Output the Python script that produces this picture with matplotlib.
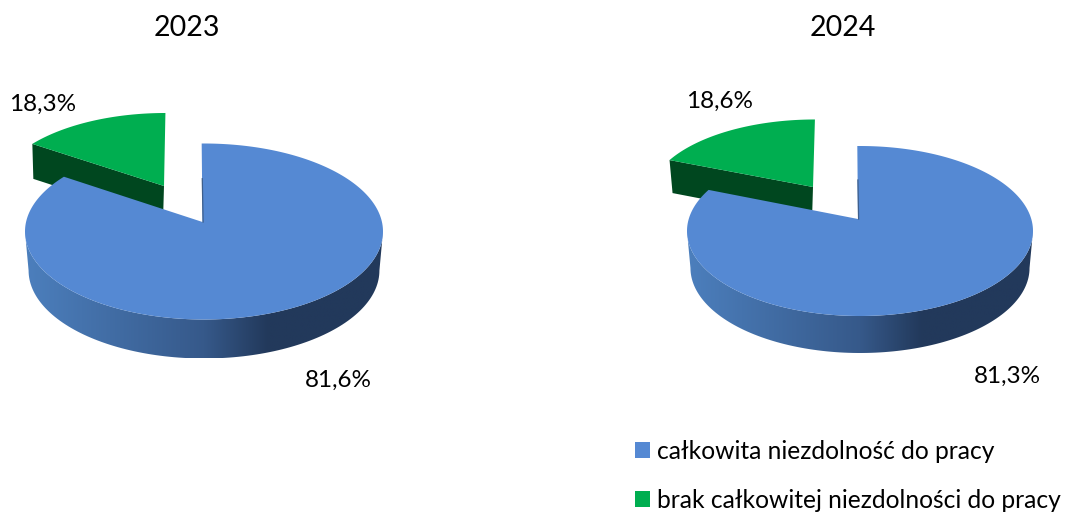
"""Two 3D-look pie charts, 2023 vs 2024, drawn in pixel coordinates."""
import matplotlib
matplotlib.use("Agg")
import matplotlib.pyplot as plt
import numpy as np
from matplotlib.colors import LinearSegmentedColormap
from matplotlib.patches import Patch, Polygon

years = ["2023", "2024"]
share_total = [81.6, 81.3]
share_none = [18.3, 18.6]
legend_labels = ["całkowita niezdolność do pracy", "brak całkowitej niezdolności do pracy"]

BLUE = "#5589D3"
GREEN = "#00AE50"
GREEN_DARK = "#00471F"
WALL = LinearSegmentedColormap.from_list(
    "wall", [(0, "#4C7FBD"), (0.5, "#36598A"), (0.68, "#22395B"), (1, "#22395B")]
)

# layout per pie: ellipse centre, radii, perspective, depth, exploded slice
PIES = [
    dict(cx=204, cy=231.5, rx=179, ry=88, persp=0.288, depth=39, apex=(202.5, 222),
         g_apex=(164, 186), g_scale=(0.95, 0.93), g_drop=(1, 35)),
    dict(cx=860, cy=231, rx=173, ry=85, persp=0.115, depth=37, apex=(858, 219),
         g_apex=(813, 187), g_scale=(0.96, 0.925), g_drop=(3, 33)),
]
TITLE_POS = [(187, 28.5), (843, 27.5)]
LABEL_TOTAL_POS = [(338, 380), (1007, 376)]
LABEL_NONE_POS = [(43, 104), (720, 101)]

plt.rcParams["font.family"] = ["Lato", "DejaVu Sans"]


def rim(p, deg):
    """Point(s) on the top rim, deg measured clockwise from 12 o'clock."""
    t = np.radians(deg)
    x, y = np.sin(t), np.cos(t)
    e = p["persp"]
    px = np.sqrt(1 - e**2) * x / (1 + e * y)
    py = (y + e) / (1 + e * y)
    return np.column_stack([p["cx"] + p["rx"] * px, p["cy"] - p["ry"] * py])


def draw_pie(ax, p, total, none):
    end = 360 * total / (total + none)
    apex = np.array(p["apex"], dtype=float)
    g_apex = np.array(p["g_apex"], dtype=float)

    # exploded slice: dark cut face first, then the top
    arc = rim(p, np.linspace(end, 360, 60))
    g_arc = g_apex + np.array(p["g_scale"]) * (arc - apex)
    drop = np.array(p["g_drop"])
    ax.add_patch(Polygon([g_arc[0], g_apex, g_apex + (-1, drop[1]), g_arc[0] + drop],
                         fc=GREEN_DARK, ec="none", zorder=2))
    ax.add_patch(Polygon(np.vstack([g_apex, g_arc]), fc=GREEN, ec="none", zorder=3))

    # side wall with a left-to-right gradient, clipped to the front half
    phi = np.linspace(0, np.pi, 120)
    top = np.column_stack([p["cx"] + p["rx"] * np.cos(phi), p["cy"] + p["ry"] * np.sin(phi)])
    bottom = np.column_stack([p["cx"] + 0.98 * p["rx"] * np.cos(phi),
                              p["cy"] + p["depth"] + p["ry"] * np.sin(phi)])
    wall = Polygon(np.vstack([top, bottom[::-1]]), fc="none", ec="none", transform=ax.transData)
    ax.add_patch(wall)
    img = ax.imshow(np.linspace(0, 1, 256)[None, :], cmap=WALL, aspect="auto", zorder=4,
                    extent=(p["cx"] - p["rx"], p["cx"] + p["rx"],
                            p["cy"] + p["ry"] + p["depth"], p["cy"] - 5))
    img.set_clip_path(wall)

    # main slice top and the thin inner edge of the notch
    b_arc = rim(p, np.linspace(-1, end, 240))
    ax.add_patch(Polygon(np.vstack([apex, b_arc]), fc=BLUE, ec="none", zorder=5))
    ax.plot([b_arc[0][0] + 0.6, apex[0] + 0.6], [p["cy"] - 0.6 * p["ry"], apex[1]],
            color="#3E5F8C", lw=0.9, zorder=5)


fig = plt.figure(figsize=(10.65, 5.13), dpi=100)
ax = fig.add_axes([0, 0, 1, 1])

for i, p in enumerate(PIES):
    draw_pie(ax, p, share_total[i], share_none[i])
    ax.text(*TITLE_POS[i], years[i], fontsize=20.5, ha="center", va="center", color="black")
    ax.text(*LABEL_TOTAL_POS[i], f"{share_total[i]:.1f}%".replace(".", ","),
            fontsize=17.5, ha="center", va="center", color="black")
    ax.text(*LABEL_NONE_POS[i], f"{share_none[i]:.1f}%".replace(".", ","),
            fontsize=17.5, ha="center", va="center", color="black")

ax.set_xlim(0, 1065)
ax.set_ylim(513, 0)
ax.axis("off")

handles = [Patch(fc=BLUE, ec="none"), Patch(fc=GREEN, ec="none")]
ax.legend(handles, legend_labels, loc="lower left", bbox_to_anchor=(635, 511.5), frameon=False,
          bbox_transform=ax.transData, fontsize=17.7, handlelength=0.61, handleheight=0.61,
          handletextpad=0.28, labelspacing=1.05, borderpad=0, borderaxespad=0)

fig.savefig("out.png", dpi=100)
